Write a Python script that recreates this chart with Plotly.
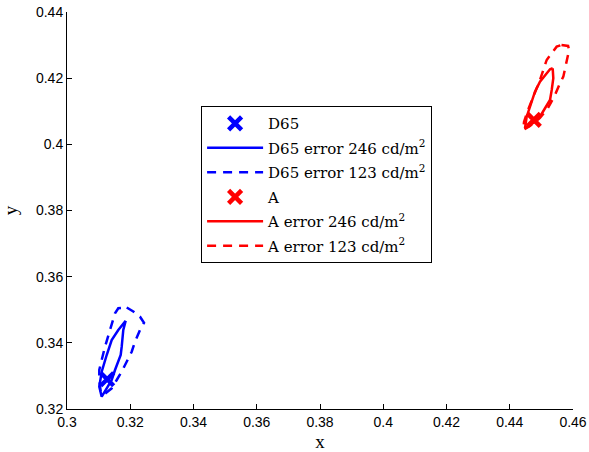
import plotly.graph_objects as go

# White points
d65_x = [0.3127]
d65_y = [0.3290]
a_x = [0.4476]
a_y = [0.4074]

# D65 error contours
d65_246_x = [0.31856, 0.31780, 0.31730, 0.31698, 0.31518, 0.31413, 0.31255, 0.31097,
             0.31021, 0.31097, 0.31255, 0.31413, 0.31622, 0.31856]
d65_246_y = [0.34669, 0.34388, 0.33883, 0.33632, 0.33179, 0.32877, 0.32626, 0.32372,
             0.32674, 0.33128, 0.33632, 0.34086, 0.34388, 0.34669]
d65_123_x = [0.31888, 0.32096, 0.32308, 0.32435, 0.32308, 0.32150, 0.32046, 0.31888,
             0.31730, 0.31572, 0.31413, 0.31148, 0.31066, 0.31021, 0.31021, 0.31097,
             0.31202, 0.31360, 0.31518, 0.31622, 0.31888]
d65_123_y = [0.35069, 0.34948, 0.34790, 0.34609, 0.34388, 0.34035, 0.33732, 0.33430,
             0.33128, 0.32877, 0.32626, 0.32423, 0.32523, 0.32877, 0.33179, 0.33481,
             0.33883, 0.34388, 0.34893, 0.35044, 0.35069]

# A error contours
a_246_x = [0.45358, 0.45377, 0.45327, 0.45273, 0.45115, 0.44956, 0.44798, 0.44482,
           0.44536, 0.44640, 0.44798, 0.44956, 0.45168, 0.45273, 0.45358]
a_246_y = [0.42299, 0.41997, 0.41643, 0.41341, 0.41090, 0.40836, 0.40685, 0.40485,
           0.40836, 0.41138, 0.41592, 0.41894, 0.42148, 0.42269, 0.42299]
a_123_x = [0.45636, 0.45845, 0.45877, 0.45813, 0.45779, 0.45694, 0.45589, 0.45431,
           0.45209, 0.44956, 0.44640, 0.44429, 0.44451, 0.44577, 0.44767, 0.44956,
           0.45168, 0.45326, 0.45484, 0.45636]
a_123_y = [0.43004, 0.42973, 0.42853, 0.42550, 0.42348, 0.42045, 0.41846, 0.41492,
           0.41099, 0.40797, 0.40555, 0.40434, 0.40676, 0.41039, 0.41492, 0.41946,
           0.42550, 0.42753, 0.42952, 0.43004]

x_ticks = [0.30, 0.32, 0.34, 0.36, 0.38, 0.40, 0.42, 0.44, 0.46]
x_tick_labels = ["0.3", "0.32", "0.34", "0.36", "0.38", "0.4", "0.42", "0.44", "0.46"]
y_ticks = [0.32, 0.34, 0.36, 0.38, 0.40, 0.42, 0.44]
y_tick_labels = ["0.32", "0.34", "0.36", "0.38", "0.4", "0.42", "0.44"]

BLUE = "#0000ff"
RED = "#ff0000"
DASH = "9px,7px"
LW = 2.5

fig = go.Figure()
fig.add_trace(go.Scatter(x=d65_x, y=d65_y, mode="markers", name="D65", legendgroup="g1",
                         marker=dict(symbol="x-thin", size=13, color=BLUE,
                                     line=dict(color=BLUE, width=4.5))))
fig.add_trace(go.Scatter(x=d65_246_x, y=d65_246_y, mode="lines", legendgroup="g2",
                         name="D65 error 246 cd/m<sup>2</sup>",
                         line=dict(color=BLUE, width=LW)))
fig.add_trace(go.Scatter(x=d65_123_x, y=d65_123_y, mode="lines", legendgroup="g3",
                         name="D65 error 123 cd/m<sup>2</sup>",
                         line=dict(color=BLUE, width=LW, dash=DASH)))
fig.add_trace(go.Scatter(x=a_x, y=a_y, mode="markers", name="A", legendgroup="g4",
                         marker=dict(symbol="x-thin", size=13, color=RED,
                                     line=dict(color=RED, width=4.5))))
fig.add_trace(go.Scatter(x=a_246_x, y=a_246_y, mode="lines", legendgroup="g5",
                         name="A error 246 cd/m<sup>2</sup>",
                         line=dict(color=RED, width=LW)))
fig.add_trace(go.Scatter(x=a_123_x, y=a_123_y, mode="lines", legendgroup="g6",
                         name="A error 123 cd/m<sup>2</sup>",
                         line=dict(color=RED, width=LW, dash=DASH)))

fig.update_layout(
    width=589, height=452,
    margin=dict(l=67, r=16, t=12, b=43),
    paper_bgcolor="white", plot_bgcolor="white",
    showlegend=True,
    legend=dict(x=0.265, y=0.763, xanchor="left", yanchor="top",
                bgcolor="white", bordercolor="black", borderwidth=1,
                font=dict(family="DejaVu Serif, serif", size=15, color="black"),
                itemwidth=56, tracegroupgap=2),
)
fig.update_xaxes(range=[0.30, 0.46], tickvals=x_ticks, ticktext=x_tick_labels,
                 automargin=False,
                 showgrid=False, zeroline=False, showline=True, linecolor="black",
                 linewidth=1, mirror=False, ticks="inside", ticklen=5, tickcolor="black",
                 tickfont=dict(family="Liberation Sans, Arial, sans-serif", size=14, color="black"),
                 title=dict(text="x",
                            font=dict(family="Liberation Serif, serif", size=19, color="black")))
fig.update_yaxes(range=[0.32, 0.44], tickvals=y_ticks, ticktext=y_tick_labels,
                 automargin=False,
                 showgrid=False, zeroline=False, showline=True, linecolor="black",
                 linewidth=1, mirror=False, ticks="inside", ticklen=5, tickcolor="black",
                 tickfont=dict(family="Liberation Sans, Arial, sans-serif", size=14, color="black"),
                 title=dict(text="y",
                            font=dict(family="Liberation Serif, serif", size=19, color="black")))

fig.write_html("out.html")
